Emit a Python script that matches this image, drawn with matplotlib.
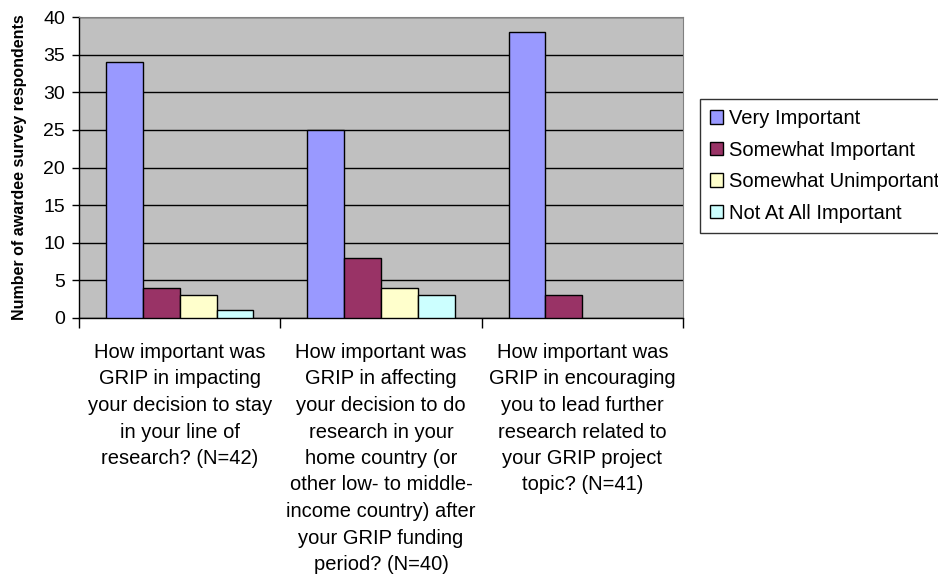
import matplotlib
matplotlib.use("Agg")
import matplotlib.pyplot as plt
import numpy as np

categories = [
    "How important was\nGRIP in impacting\nyour decision to stay\nin your line of\nresearch? (N=42)",
    "How important was\nGRIP in affecting\nyour decision to do\nresearch in your\nhome country (or\nother low- to middle-\nincome country) after\nyour GRIP funding\nperiod? (N=40)",
    "How important was\nGRIP in encouraging\nyou to lead further\nresearch related to\nyour GRIP project\ntopic? (N=41)",
]
series_names = ["Very Important", "Somewhat Important", "Somewhat Unimportant", "Not At All Important"]
very_important = [34, 25, 38]
somewhat_important = [4, 8, 3]
somewhat_unimportant = [3, 4, 0]
not_at_all_important = [1, 3, 0]
yticks = [0, 5, 10, 15, 20, 25, 30, 35, 40]

series = [very_important, somewhat_important, somewhat_unimportant, not_at_all_important]
colors = ["#9999FF", "#993366", "#FFFFCC", "#CCFFFF"]

plt.rcParams['font.family'] = ['Liberation Sans', 'DejaVu Sans']

fig = plt.figure(figsize=(9.38, 5.77), dpi=100)
ax = fig.add_axes([79/938, 1-318/577, (683-79)/938, (318-17)/577])
ax.set_facecolor("#C0C0C0")

x = np.arange(len(categories))
w = 0.183
for i, (vals, c, name) in enumerate(zip(series, colors, series_names)):
    lws = [1.0 if v > 0 else 0.0 for v in vals]
    ax.bar(x + (i - 1.5) * w, vals, width=w, color=c, edgecolor="black",
           linewidth=lws, label=name, zorder=3)

ax.set_xlim(-0.5, 2.5)
ax.set_ylim(0, 40)
ax.set_yticks(yticks)
ax.yaxis.grid(True, color="black", linewidth=1.0, zorder=1)
ax.set_axisbelow(True)
ax.tick_params(axis='y', labelsize=14, length=5, width=1, direction='out', pad=5)

ax.set_xticks([-0.5, 0.5, 1.5, 2.5])
ax.set_xticklabels([])
ax.tick_params(axis='x', which='major', length=7, width=1, direction='out')
ax.set_xticks(x, minor=True)
ax.set_xticklabels(categories, minor=True, fontsize=14.5, linespacing=1.5)
ax.tick_params(axis='x', which='minor', length=0, pad=18)

for s in ['top', 'right']:
    ax.spines[s].set_color("#808080")
for s in ['left', 'bottom']:
    ax.spines[s].set_color("black")
    ax.spines[s].set_linewidth(1.0)

ax.set_ylabel("Number of awardee survey respondents", fontsize=11.5,
              fontweight='bold', labelpad=12)

leg = fig.legend(loc='upper left', bbox_to_anchor=(700/938, 1-99/577),
                 fontsize=14.5, frameon=True, fancybox=False,
                 edgecolor="black", handlelength=0.65, handleheight=0.65,
                 handletextpad=0.3, labelspacing=0.62, borderpad=0.5,
                 borderaxespad=0)
leg.get_frame().set_linewidth(1.0)
for h in leg.legend_handles:
    h.set_linewidth(1.0)

fig.savefig("out.png", dpi=100)
